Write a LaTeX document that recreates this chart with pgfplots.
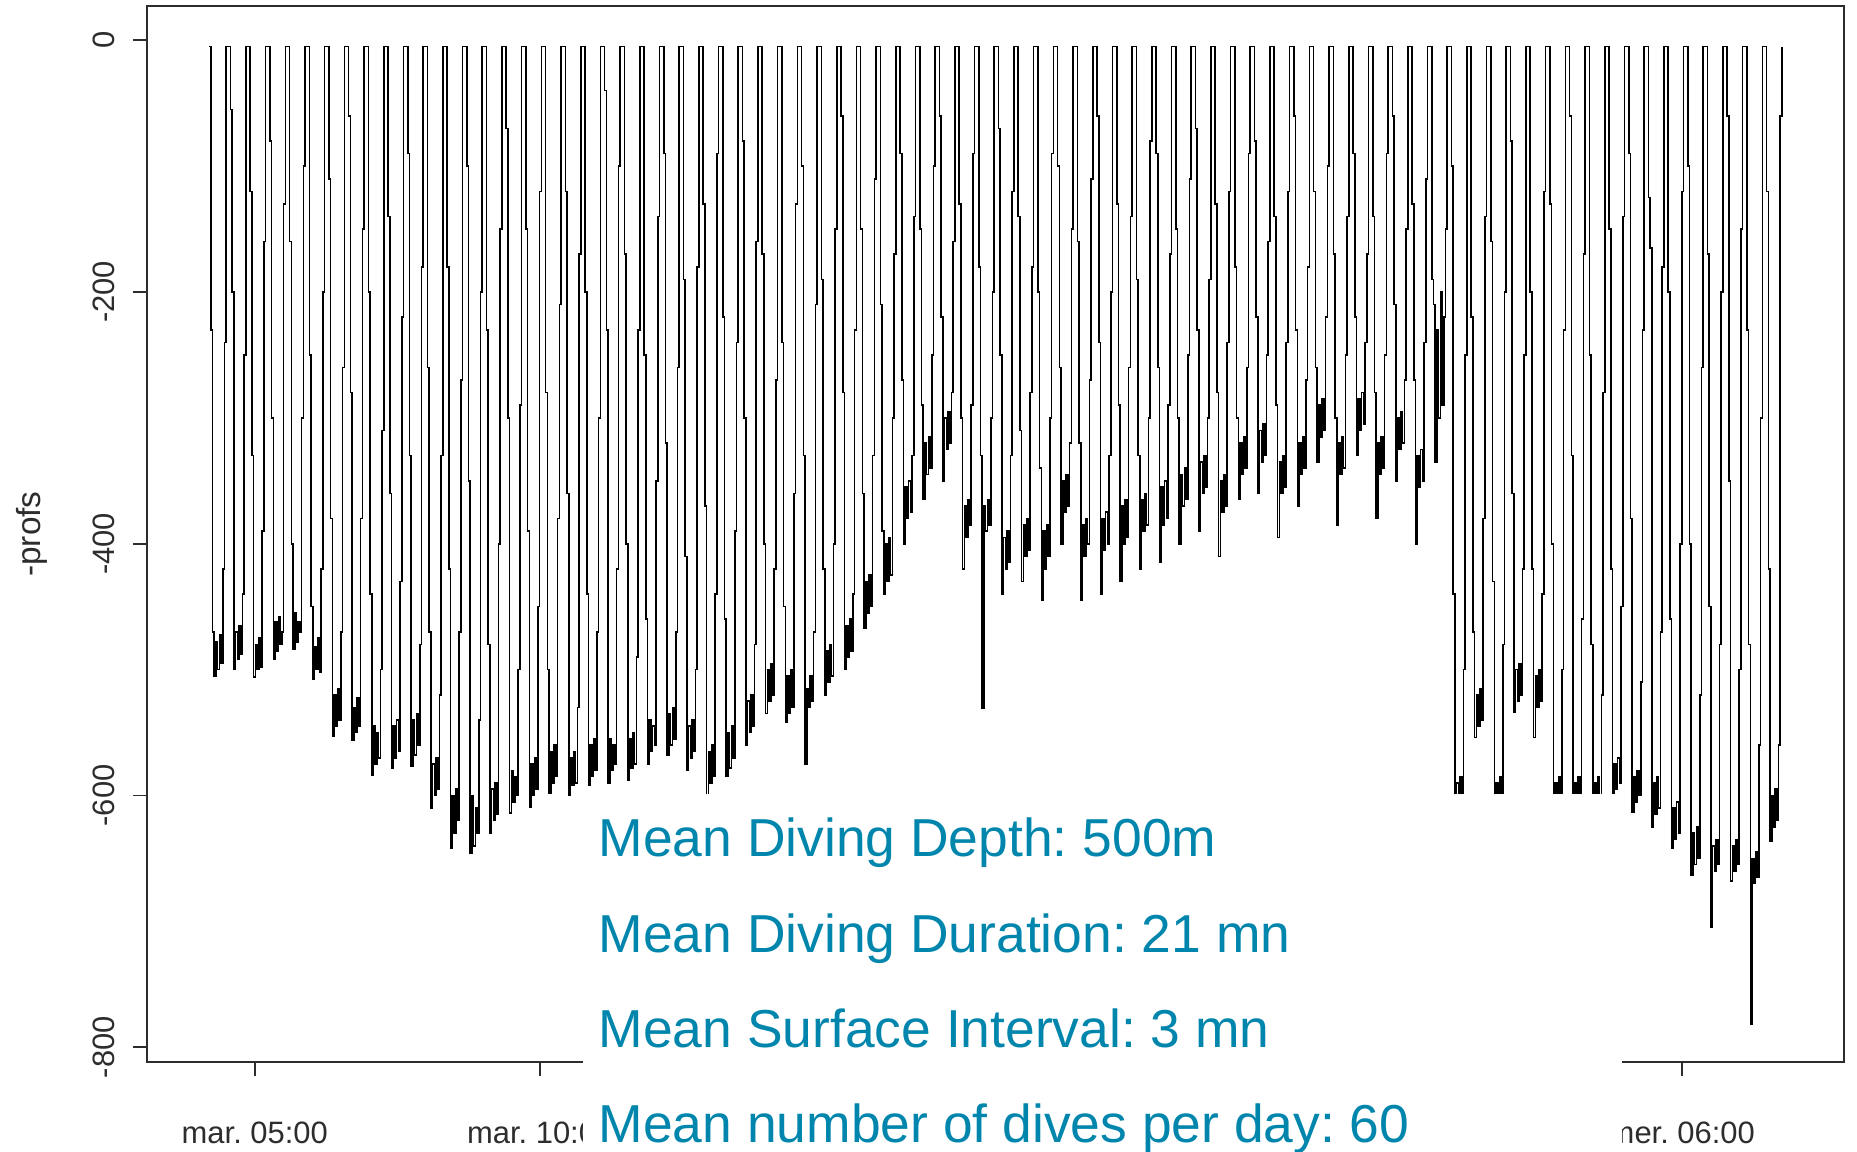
\documentclass[border=0pt]{standalone}
\usepackage{pgfplots}
\pgfplotsset{compat=1.18}
\usepackage{fontspec}
\setmainfont{Liberation Sans}
\definecolor{tealtxt}{RGB}{0,134,172}
\definecolor{rgray}{RGB}{45,45,45}
\frenchspacing
\begin{document}
\begin{tikzpicture}[x=1mm,y=1mm]
\path[use as bounding box] (0,0) rectangle (185.7,115.1);
\clip (0,0) rectangle (185.7,115.1);
\begin{axis}[
  at={(14.69mm,8.87mm)}, anchor=south west,
  scale only axis, width=169.7mm, height=105.6mm,
  xmin=3.11, xmax=32.84, ymin=-812, ymax=27,
  axis line style={line width=0.5pt, rgray},
  tick style={line width=0.5pt, rgray},
  tick align=outside, major tick length=1.4mm,
  xtick pos=left, ytick pos=left,
  xtick={5,10,15,20,25,30},
  xticklabels={mar. 05:00, mar. 10:00, {}, {}, {}, mer. 06:00},
  ytick={0,-200,-400,-600,-800},
  yticklabels={0,-200,-400,-600,-800},
  tick label style={font=\fontsize{8.8pt}{10pt}\selectfont, text=rgray},
  xticklabel style={anchor=base, inner sep=0pt, yshift=-6.7mm},
  yticklabel style={xshift=-1.7mm, rotate=90, anchor=south, inner sep=0pt},
]
\addplot[const plot, black, line width=0.45pt] coordinates {
(4.200,-5)
(4.230,-230)(4.260,-470)(4.290,-505)(4.320,-478)(4.350,-500)(4.380,-472)(4.410,-495)(4.440,-420)(4.470,-240)(4.500,-5)
(4.575,-55)(4.605,-200)(4.635,-500)(4.665,-470)(4.695,-492)(4.725,-465)(4.755,-488)(4.785,-440)(4.815,-250)(4.845,-5)
(4.920,-120)(4.950,-330)(4.980,-506)(5.010,-480)(5.040,-500)(5.070,-475)(5.100,-498)(5.130,-390)(5.160,-160)(5.190,-5)
(5.265,-80)(5.295,-300)(5.325,-492)(5.355,-462)(5.385,-485)(5.415,-458)(5.445,-480)(5.475,-470)(5.505,-130)(5.535,-5)
(5.610,-160)(5.640,-400)(5.670,-484)(5.700,-455)(5.730,-478)(5.760,-462)(5.790,-470)(5.820,-300)(5.850,-100)(5.880,-5)
(5.955,-250)(5.985,-450)(6.015,-508)(6.045,-482)(6.075,-500)(6.105,-475)(6.135,-502)(6.165,-420)(6.195,-200)(6.225,-5)
(6.300,-110)(6.330,-380)(6.360,-553)(6.390,-520)(6.420,-545)(6.450,-515)(6.480,-540)(6.510,-470)(6.540,-260)(6.570,-5)
(6.645,-60)(6.675,-280)(6.705,-556)(6.735,-530)(6.765,-550)(6.795,-522)(6.825,-545)(6.855,-380)(6.885,-150)(6.915,-5)
(6.990,-200)(7.020,-440)(7.050,-584)(7.080,-545)(7.110,-575)(7.140,-550)(7.170,-570)(7.200,-500)(7.230,-310)(7.260,-5)
(7.335,-140)(7.365,-360)(7.395,-578)(7.425,-545)(7.455,-570)(7.485,-540)(7.515,-565)(7.545,-430)(7.575,-220)(7.605,-5)
(7.680,-90)(7.710,-330)(7.740,-577)(7.770,-540)(7.800,-568)(7.830,-535)(7.860,-560)(7.890,-480)(7.920,-180)(7.950,-5)
(8.025,-260)(8.055,-470)(8.085,-610)(8.115,-575)(8.145,-600)(8.175,-570)(8.205,-595)(8.235,-520)(8.265,-330)(8.295,-5)
(8.370,-180)(8.400,-420)(8.430,-642)(8.460,-600)(8.490,-630)(8.520,-595)(8.550,-620)(8.580,-470)(8.610,-270)(8.640,-5)
(8.715,-100)(8.745,-350)(8.775,-646)(8.805,-600)(8.835,-640)(8.865,-610)(8.895,-630)(8.925,-540)(8.955,-200)(8.985,-5)
(9.060,-230)(9.090,-480)(9.120,-630)(9.150,-595)(9.180,-620)(9.210,-590)(9.240,-615)(9.270,-400)(9.300,-150)(9.330,-5)
(9.405,-70)(9.435,-300)(9.465,-614)(9.495,-580)(9.525,-605)(9.555,-585)(9.585,-600)(9.615,-500)(9.645,-290)(9.675,-5)
(9.750,-150)(9.780,-390)(9.810,-609)(9.840,-575)(9.870,-600)(9.900,-570)(9.930,-595)(9.960,-450)(9.990,-120)(10.020,-5)
(10.095,-280)(10.125,-500)(10.155,-598)(10.185,-565)(10.215,-590)(10.245,-560)(10.275,-585)(10.305,-380)(10.335,-210)(10.365,-5)
(10.440,-120)(10.470,-360)(10.500,-600)(10.530,-570)(10.560,-592)(10.590,-565)(10.620,-590)(10.650,-530)(10.680,-170)(10.710,-5)
(10.785,-200)(10.815,-440)(10.845,-592)(10.875,-560)(10.905,-585)(10.935,-555)(10.965,-580)(10.995,-470)(11.025,-300)(11.055,-5)
(11.130,-40)(11.160,-230)(11.190,-590)(11.220,-555)(11.250,-580)(11.280,-560)(11.310,-575)(11.340,-420)(11.370,-100)(11.400,-5)
(11.475,-170)(11.505,-400)(11.535,-588)(11.565,-555)(11.595,-578)(11.625,-550)(11.655,-575)(11.685,-490)(11.715,-230)(11.745,-5)
(11.820,-250)(11.850,-460)(11.880,-575)(11.910,-540)(11.940,-565)(11.970,-545)(12.000,-560)(12.030,-350)(12.060,-140)(12.090,-5)
(12.165,-90)(12.195,-320)(12.225,-568)(12.255,-535)(12.285,-560)(12.315,-530)(12.345,-555)(12.375,-470)(12.405,-260)(12.435,-5)
(12.510,-190)(12.540,-410)(12.570,-580)(12.600,-545)(12.630,-570)(12.660,-540)(12.690,-565)(12.720,-500)(12.750,-180)(12.780,-5)
(12.855,-130)(12.885,-370)(12.915,-600)(12.945,-565)(12.975,-590)(13.005,-560)(13.035,-585)(13.065,-440)(13.095,-90)(13.125,-5)
(13.200,-220)(13.230,-460)(13.260,-585)(13.290,-550)(13.320,-578)(13.350,-545)(13.380,-570)(13.410,-390)(13.440,-240)(13.470,-5)
(13.545,-80)(13.575,-300)(13.605,-560)(13.635,-525)(13.665,-550)(13.695,-520)(13.725,-545)(13.755,-480)(13.785,-160)(13.815,-5)
(13.890,-170)(13.920,-400)(13.950,-535)(13.980,-500)(14.010,-525)(14.040,-495)(14.070,-520)(14.100,-420)(14.130,-270)(14.160,-5)
(14.235,-240)(14.265,-450)(14.295,-542)(14.325,-505)(14.355,-535)(14.385,-500)(14.415,-530)(14.445,-360)(14.475,-130)(14.505,-5)
(14.580,-100)(14.610,-330)(14.640,-575)(14.670,-515)(14.700,-530)(14.730,-505)(14.760,-525)(14.790,-470)(14.820,-210)(14.850,-5)
(14.925,-190)(14.955,-420)(14.985,-520)(15.015,-485)(15.045,-510)(15.075,-480)(15.105,-505)(15.135,-400)(15.165,-150)(15.195,-5)
(15.270,-60)(15.300,-280)(15.330,-500)(15.360,-465)(15.390,-490)(15.420,-460)(15.450,-485)(15.480,-440)(15.510,-230)(15.540,-5)
(15.615,-150)(15.645,-360)(15.675,-467)(15.705,-430)(15.735,-455)(15.765,-425)(15.795,-450)(15.825,-330)(15.855,-110)(15.885,-5)
(15.960,-210)(15.990,-390)(16.020,-440)(16.050,-400)(16.080,-430)(16.110,-395)(16.140,-425)(16.170,-300)(16.200,-170)(16.230,-5)
(16.305,-90)(16.335,-270)(16.365,-400)(16.395,-355)(16.425,-380)(16.455,-350)(16.485,-375)(16.515,-330)(16.545,-140)(16.575,-5)
(16.650,-150)(16.680,-290)(16.710,-365)(16.740,-320)(16.770,-345)(16.800,-315)(16.830,-340)(16.860,-250)(16.890,-100)(16.920,-5)
(16.995,-60)(17.025,-220)(17.055,-350)(17.085,-300)(17.115,-325)(17.145,-295)(17.175,-320)(17.205,-280)(17.235,-160)(17.265,-5)
(17.340,-130)(17.370,-300)(17.400,-420)(17.430,-370)(17.460,-395)(17.490,-365)(17.520,-385)(17.550,-290)(17.580,-90)(17.610,-5)
(17.685,-180)(17.715,-330)(17.745,-531)(17.775,-370)(17.805,-390)(17.835,-365)(17.865,-385)(17.895,-300)(17.925,-200)(17.955,-5)
(18.030,-70)(18.060,-250)(18.090,-440)(18.120,-395)(18.150,-420)(18.180,-390)(18.210,-415)(18.240,-330)(18.270,-120)(18.300,-5)
(18.375,-140)(18.405,-310)(18.435,-430)(18.465,-385)(18.495,-410)(18.525,-380)(18.555,-405)(18.585,-280)(18.615,-180)(18.645,-5)
(18.720,-200)(18.750,-340)(18.780,-445)(18.810,-390)(18.840,-420)(18.870,-385)(18.900,-410)(18.930,-300)(18.960,-90)(18.990,-5)
(19.065,-100)(19.095,-260)(19.125,-400)(19.155,-350)(19.185,-375)(19.215,-345)(19.245,-370)(19.275,-320)(19.305,-150)(19.335,-5)
(19.410,-160)(19.440,-320)(19.470,-445)(19.500,-385)(19.530,-410)(19.560,-380)(19.590,-400)(19.620,-270)(19.650,-110)(19.680,-5)
(19.755,-60)(19.785,-240)(19.815,-440)(19.845,-380)(19.875,-405)(19.905,-375)(19.935,-400)(19.965,-330)(19.995,-200)(20.025,-5)
(20.100,-130)(20.130,-290)(20.160,-430)(20.190,-370)(20.220,-400)(20.250,-365)(20.280,-395)(20.310,-260)(20.340,-140)(20.370,-5)
(20.445,-190)(20.475,-330)(20.505,-420)(20.535,-365)(20.565,-390)(20.595,-360)(20.625,-385)(20.655,-300)(20.685,-80)(20.715,-5)
(20.790,-90)(20.820,-260)(20.850,-415)(20.880,-355)(20.910,-385)(20.940,-350)(20.970,-380)(21.000,-290)(21.030,-170)(21.060,-5)
(21.135,-150)(21.165,-300)(21.195,-400)(21.225,-345)(21.255,-370)(21.285,-340)(21.315,-365)(21.345,-250)(21.375,-110)(21.405,-5)
(21.480,-70)(21.510,-230)(21.540,-390)(21.570,-335)(21.600,-360)(21.630,-330)(21.660,-355)(21.690,-300)(21.720,-190)(21.750,-5)
(21.825,-130)(21.855,-280)(21.885,-410)(21.915,-350)(21.945,-375)(21.975,-345)(22.005,-370)(22.035,-240)(22.065,-120)(22.095,-5)
(22.170,-180)(22.200,-300)(22.230,-365)(22.260,-320)(22.290,-345)(22.320,-315)(22.350,-340)(22.380,-260)(22.410,-90)(22.440,-5)
(22.515,-80)(22.545,-220)(22.575,-360)(22.605,-310)(22.635,-335)(22.665,-305)(22.695,-330)(22.725,-250)(22.755,-160)(22.785,-5)
(22.860,-140)(22.890,-290)(22.920,-395)(22.950,-335)(22.980,-360)(23.010,-330)(23.040,-355)(23.070,-240)(23.100,-120)(23.130,-5)
(23.205,-60)(23.235,-230)(23.265,-370)(23.295,-320)(23.325,-345)(23.355,-315)(23.385,-340)(23.415,-270)(23.445,-180)(23.475,-5)
(23.550,-120)(23.580,-260)(23.610,-335)(23.640,-290)(23.670,-315)(23.700,-285)(23.730,-310)(23.760,-220)(23.790,-100)(23.820,-5)
(23.895,-170)(23.925,-300)(23.955,-385)(23.985,-320)(24.015,-345)(24.045,-315)(24.075,-340)(24.105,-250)(24.135,-140)(24.165,-5)
(24.240,-90)(24.270,-220)(24.300,-330)(24.330,-285)(24.360,-310)(24.390,-280)(24.420,-305)(24.450,-240)(24.480,-170)(24.510,-5)
(24.585,-140)(24.615,-280)(24.645,-380)(24.675,-320)(24.705,-345)(24.735,-315)(24.765,-340)(24.795,-250)(24.825,-90)(24.855,-5)
(24.930,-60)(24.960,-210)(24.990,-350)(25.020,-300)(25.050,-325)(25.080,-295)(25.110,-320)(25.140,-270)(25.170,-150)(25.200,-5)
(25.275,-130)(25.305,-270)(25.335,-400)(25.365,-330)(25.395,-355)(25.425,-325)(25.455,-350)(25.485,-240)(25.515,-110)(25.545,-5)
(25.620,-190)(25.650,-210)(25.680,-335)(25.710,-230)(25.740,-300)(25.770,-200)(25.800,-290)(25.830,-220)(25.860,-150)(25.890,-5)
(25.965,-100)(25.995,-440)(26.025,-640)(26.055,-590)(26.085,-620)(26.115,-585)(26.145,-615)(26.175,-500)(26.205,-250)(26.235,-5)
(26.310,-220)(26.340,-470)(26.370,-554)(26.400,-520)(26.430,-545)(26.460,-515)(26.490,-540)(26.520,-380)(26.550,-140)(26.580,-5)
(26.655,-160)(26.685,-430)(26.715,-640)(26.745,-590)(26.775,-620)(26.805,-585)(26.835,-615)(26.865,-480)(26.895,-200)(26.925,-5)
(27.000,-80)(27.030,-360)(27.060,-534)(27.090,-500)(27.120,-525)(27.150,-495)(27.180,-520)(27.210,-420)(27.240,-250)(27.270,-5)
(27.345,-200)(27.375,-420)(27.405,-554)(27.435,-505)(27.465,-530)(27.495,-500)(27.525,-525)(27.555,-440)(27.585,-120)(27.615,-5)
(27.690,-130)(27.720,-400)(27.750,-640)(27.780,-590)(27.810,-620)(27.840,-585)(27.870,-615)(27.900,-500)(27.930,-230)(27.960,-5)
(28.035,-60)(28.065,-330)(28.095,-640)(28.125,-590)(28.155,-620)(28.185,-585)(28.215,-615)(28.245,-460)(28.275,-170)(28.305,-5)
(28.380,-250)(28.410,-480)(28.440,-640)(28.470,-590)(28.500,-620)(28.530,-585)(28.560,-615)(28.590,-520)(28.620,-280)(28.650,-5)
(28.725,-150)(28.755,-420)(28.785,-604)(28.815,-575)(28.845,-595)(28.875,-570)(28.905,-590)(28.935,-450)(28.965,-140)(28.995,-5)
(29.070,-90)(29.100,-380)(29.130,-613)(29.160,-585)(29.190,-605)(29.220,-580)(29.250,-600)(29.280,-510)(29.310,-230)(29.340,-5)
(29.415,-125)(29.445,-165)(29.475,-625)(29.505,-590)(29.535,-615)(29.565,-585)(29.595,-610)(29.625,-470)(29.655,-180)(29.685,-5)
(29.760,-200)(29.790,-460)(29.820,-642)(29.850,-610)(29.880,-635)(29.910,-605)(29.940,-630)(29.970,-400)(30.000,-120)(30.030,-5)
(30.105,-100)(30.135,-400)(30.165,-663)(30.195,-630)(30.225,-655)(30.255,-625)(30.285,-650)(30.315,-520)(30.345,-260)(30.375,-5)
(30.450,-170)(30.480,-450)(30.510,-705)(30.540,-640)(30.570,-660)(30.600,-635)(30.630,-655)(30.660,-480)(30.690,-200)(30.720,-5)
(30.795,-60)(30.825,-350)(30.855,-668)(30.885,-640)(30.915,-660)(30.945,-635)(30.975,-655)(31.005,-500)(31.035,-150)(31.065,-5)
(31.140,-230)(31.170,-480)(31.200,-782)(31.230,-650)(31.260,-670)(31.290,-645)(31.320,-665)(31.350,-560)(31.380,-300)(31.410,-5)
(31.485,-120)(31.515,-420)(31.545,-636)(31.575,-600)(31.605,-625)(31.635,-595)(31.665,-620)(31.695,-560)(31.725,-60)(31.755,-5)
};
\end{axis}
\fill[white] (58.3,-2) rectangle (162.2,35.75);
\node[anchor=base west, inner sep=0pt, text=tealtxt, font=\fontsize{15.2pt}{18pt}\selectfont] at (59.8,29.5) {Mean Diving Depth: 500m};
\node[anchor=base west, inner sep=0pt, text=tealtxt, font=\fontsize{15.2pt}{18pt}\selectfont] at (59.8,19.9) {Mean Diving Duration: 21 mn};
\node[anchor=base west, inner sep=0pt, text=tealtxt, font=\fontsize{15.2pt}{18pt}\selectfont] at (59.8,10.4) {Mean Surface Interval: 3 mn};
\node[anchor=base west, inner sep=0pt, text=tealtxt, font=\fontsize{15.2pt}{18pt}\selectfont] at (59.8,0.9) {Mean number of dives per day: 60};
\node[rotate=90, anchor=base, inner sep=0pt, text=rgray, font=\fontsize{9.5pt}{11pt}\selectfont] at (4.0,61.7) {-profs};
\end{tikzpicture}
\end{document}
